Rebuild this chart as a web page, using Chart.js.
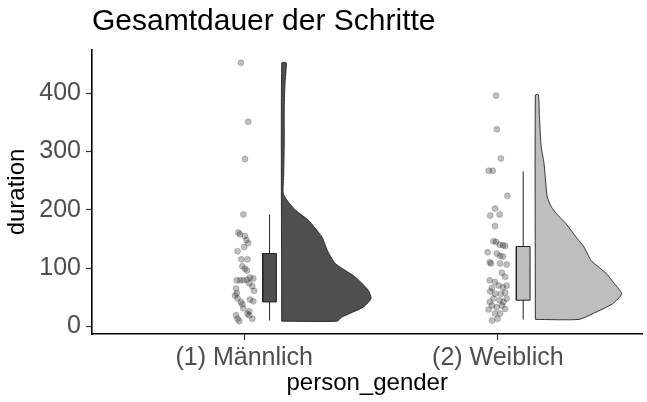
<!DOCTYPE html>
<html>
<head>
<meta charset="utf-8">
<script src="https://cdn.jsdelivr.net/npm/chart.js@4.4.0/dist/chart.umd.min.js"></script>
<style>
  html, body { margin: 0; padding: 0; background: #fff; overflow: hidden; }
  canvas { display: block; }
</style>
</head>
<body>
<canvas id="myChart" width="647" height="402"></canvas>
<script>
// categories and tick labels
const categories = ['(1) Männlich', '(2) Weiblich'];
const yTicks = [0, 100, 200, 300, 400];

// raw durations (jittered points) and their horizontal jitter in category units
const maleDuration = [452, 351, 287, 192, 161, 158, 155, 148, 143, 136, 129, 115, 115, 103, 99, 96,
  79, 79, 79, 80, 84, 82, 74, 69, 61, 65, 57, 53, 48, 42, 38, 46, 43, 31, 26, 19, 13, 9, 19, 13, 22];
const maleJitter = [-0.013, 0.016, 0.003, -0.003, -0.023, -0.017, 0.003, 0.009, 0.016, 0.0, -0.026, -0.011, 0.013, -0.007, 0.003, 0.011,
  -0.029, -0.016, -0.003, 0.011, 0.023, 0.036, 0.020, 0.032, 0.039, -0.032, -0.029, -0.036, -0.026, -0.013, -0.007, 0.023, 0.036, -0.004, 0.020, -0.032, -0.026, -0.020, 0.020, 0.032, 0.013];

const femaleDuration = [396, 338, 288, 267, 267, 224, 202, 190, 192, 172, 146, 145, 140, 139, 138, 127, 110, 108,
  125, 121, 120, 108, 106, 92, 79, 76, 85, 66, 70, 67, 70, 60, 56, 56, 58, 48, 45, 42, 48, 42, 36, 33, 36, 30, 29, 22, 22, 10, 13];
const femaleJitter = [-0.007, -0.004, 0.012, -0.036, -0.020, 0.038, -0.011, -0.030, 0.007, -0.011, -0.017, -0.007, 0.007, 0.020, 0.029, -0.040, -0.032, -0.027,
  -0.004, 0.009, 0.020, 0.009, 0.035, 0.016, -0.032, -0.011, 0.029, -0.023, 0.003, 0.020, 0.035, -0.030, -0.011, 0.012, 0.029, -0.017, 0.007, 0.022, 0.035, -0.032, -0.023, -0.004, 0.016, 0.029, -0.036, -0.011, 0.009, -0.023, -0.001];

// box statistics: lower whisker, q1, median, q3, upper whisker
const maleBox = [10, 42, 73, 125, 192];
const femaleBox = [12, 45, 76, 137, 266];

// half violin outline: duration level and density width (category units)
const maleViolinY = [9, 16, 33, 48, 62, 85, 108, 131, 153, 182, 199, 215, 228, 263, 320, 377, 417, 440, 452];
const maleViolinW = [0.218, 0.237, 0.321, 0.352, 0.341, 0.289, 0.211, 0.179, 0.159, 0.105, 0.055, 0.023, 0.006, 0.008, 0.010, 0.010, 0.013, 0.017, 0.018];
const femaleViolinY = [12, 22, 39, 56, 73, 91, 113, 136, 153, 176, 194, 205, 222, 251, 280, 308, 360, 397];
const femaleViolinW = [0.172, 0.227, 0.305, 0.340, 0.312, 0.279, 0.220, 0.192, 0.161, 0.121, 0.082, 0.063, 0.047, 0.040, 0.034, 0.023, 0.016, 0.012];

const fills = ['#4f4f4f', '#bebebe'];
const BOX_OFFSET = 0.1, BOX_HALF = 0.027, VIOLIN_OFFSET = 0.148;

function pointsDataset(center, values, jitter) {
  return {
    type: 'scatter',
    data: values.map((v, i) => ({ x: center + jitter[i], y: v })),
    pointRadius: 3,
    pointBackgroundColor: 'rgba(0,0,0,0.25)',
    pointBorderColor: 'rgba(0,0,0,0.3)',
    pointBorderWidth: 0.6
  };
}

function shape(pts, opts) {
  return Object.assign({
    type: 'line',
    data: pts,
    pointRadius: 0,
    borderColor: '#222',
    borderWidth: 1,
    tension: 0,
    fill: false
  }, opts);
}

function violinDataset(center, ys, ws, color) {
  const base = center + VIOLIN_OFFSET;
  const pts = [{ x: base, y: ys[0] }];
  ys.forEach((y, i) => pts.push({ x: base + ws[i], y: y }));
  pts.push({ x: base, y: ys[ys.length - 1] });
  pts.push({ x: base, y: ys[0] });
  return shape(pts, { fill: 'shape', backgroundColor: color, tension: 0.2, borderWidth: 0.9 });
}

function boxDatasets(center, b, color) {
  const c = center + BOX_OFFSET;
  return [
    shape([{ x: c, y: b[0] }, { x: c, y: b[1] }]),
    shape([{ x: c, y: b[3] }, { x: c, y: b[4] }]),
    shape([{ x: c - BOX_HALF, y: b[1] }, { x: c + BOX_HALF, y: b[1] }, { x: c + BOX_HALF, y: b[3] },
           { x: c - BOX_HALF, y: b[3] }, { x: c - BOX_HALF, y: b[1] }],
          { fill: 'shape', backgroundColor: color }),
    shape([{ x: c - BOX_HALF, y: b[2] }, { x: c + BOX_HALF, y: b[2] }], { borderWidth: 2.2, borderColor: '#1a1a1a' })
  ];
}

const datasets = [
  violinDataset(1, maleViolinY, maleViolinW, fills[0]),
  violinDataset(2, femaleViolinY, femaleViolinW, fills[1]),
  ...boxDatasets(1, maleBox, fills[0]),
  ...boxDatasets(2, femaleBox, fills[1]),
  pointsDataset(1, maleDuration, maleJitter),
  pointsDataset(2, femaleDuration, femaleJitter)
];

const font = 'Liberation Sans, Arial, sans-serif';

new Chart(document.getElementById('myChart'), {
  type: 'scatter',
  data: { datasets: datasets },
  options: {
    responsive: false,
    animation: false,
    devicePixelRatio: 1,
    layout: { padding: 0 },
    plugins: {
      legend: { display: false },
      tooltip: { enabled: false },
      title: {
        display: true,
        text: 'Gesamtdauer der Schritte',
        align: 'start',
        fullSize: false,
        color: '#000',
        font: { family: font, size: 30, weight: 'normal' },
        padding: { top: 4, bottom: 10 }
      }
    },
    scales: {
      x: {
        type: 'linear',
        min: 0.4,
        max: 2.57,
        afterBuildTicks: (scale) => { scale.ticks = categories.map((c, i) => ({ value: i + 1 })); },
        afterFit: (scale) => { scale.height = 68; scale.paddingRight = 0; scale.paddingLeft = 0; },
        grid: { drawOnChartArea: false, drawTicks: true, tickLength: 6, color: '#333', tickWidth: 1.2 },
        border: { display: true, color: '#000', width: 1.6 },
        ticks: {
          callback: (v) => categories[v - 1],
          color: '#4d4d4d',
          padding: 3,
          maxRotation: 0,
          font: { family: font, size: 25 }
        },
        title: {
          display: true,
          text: 'person_gender',
          color: '#000',
          font: { family: font, size: 24 },
          padding: { top: 0, bottom: 4 }
        }
      },
      y: {
        type: 'linear',
        min: -13,
        max: 474,
        afterBuildTicks: (scale) => { scale.ticks = yTicks.map(v => ({ value: v })); },
        afterFit: (scale) => { scale.width = 92; },
        grid: { drawOnChartArea: false, drawTicks: true, tickLength: 6, color: '#333', tickWidth: 1.2 },
        border: { display: true, color: '#000', width: 1.6 },
        ticks: {
          color: '#4d4d4d',
          padding: 5,
          font: { family: font, size: 25 }
        },
        title: {
          display: true,
          text: 'duration',
          color: '#000',
          font: { family: font, size: 24 },
          padding: { top: 3, bottom: 0 }
        }
      }
    }
  }
});
</script>
</body>
</html>
